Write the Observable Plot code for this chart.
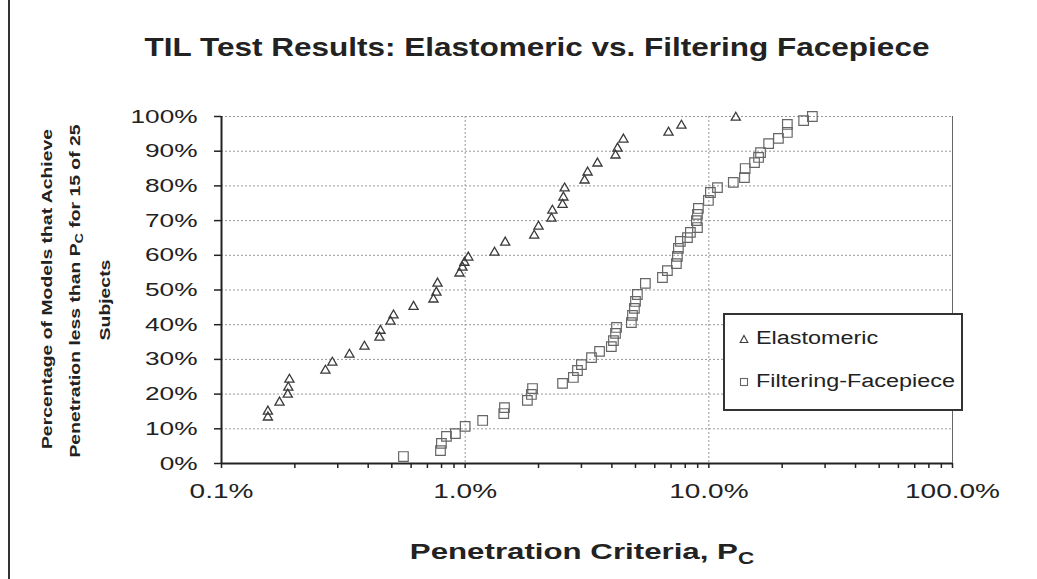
<!DOCTYPE html>
<html>
<head>
<meta charset="utf-8">
<script src="https://cdn.jsdelivr.net/npm/d3@7"></script>
<script src="https://cdn.jsdelivr.net/npm/@observablehq/plot@0.6"></script>
<style>
  html, body { margin: 0; padding: 0; background: #fff; }
  #wrap { position: relative; width: 1037px; height: 579px; overflow: hidden; font-family: "Liberation Sans", Arial, sans-serif; color: #222; }
  #wrap > svg { position: absolute; left: 0; top: 0; }
  .abs { position: absolute; white-space: nowrap; }
  .frame { position: absolute; left: 8px; top: 0; width: 2px; height: 579px; background: #333; }
  .title { font-size: 25px; font-weight: bold; transform: translate(-50%, -50%) scaleX(1.26); }
  .xtitle { font-size: 22px; font-weight: bold; transform: translate(-50%, -50%) scaleX(1.42); }
  .ytitle { font-size: 15.5px; font-weight: bold; transform: translate(-50%, -50%) rotate(-90deg) scaleX(1.25); }
  sub { font-size: 72%; vertical-align: -0.3em; line-height: 0; }
  #legend { position: absolute; left: 723px; top: 313px; width: 236px; height: 94px; border: 2px solid #333; background: #fff; }
  .li { position: absolute; left: 14px; font-size: 18px; display: flex; align-items: center; }
  .li svg { display: block; margin-right: 7px; }
  .li span { display: inline-block; transform-origin: 0 50%; transform: scaleX(1.3); }
</style>
</head>
<body>
<div id="wrap">
  <div class="frame"></div>
  <div class="abs title" style="left:537px; top:47px;">TIL Test Results: Elastomeric vs. Filtering Facepiece</div>
  <div class="abs xtitle" style="left:582px; top:552px;">Penetration Criteria, P<sub>C</sub></div>
  <div class="abs ytitle" style="left:47px; top:289px;">Percentage of Models that Achieve</div>
  <div class="abs ytitle" style="left:75px; top:291px;">Penetration less than P<sub>C</sub> for 15 of 25</div>
  <div class="abs ytitle" style="left:105px; top:300px;">Subjects</div>
</div>
<script>
// ---- data ----
const seriesNames = ["Elastomeric", "Filtering-Facepiece"];

// Elastomeric: penetration criteria (%) and cumulative percentage of models (%)
const elastoPc = [0.155, 0.155, 0.173, 0.187, 0.188, 0.190, 0.267, 0.285, 0.335, 0.386,
  0.445, 0.449, 0.494, 0.508, 0.614, 0.741, 0.762, 0.770, 0.948, 0.975,
  0.993, 1.03, 1.32, 1.46, 1.92, 2.00, 2.26, 2.28, 2.51, 2.53,
  2.56, 3.09, 3.18, 3.49, 4.14, 4.22, 4.46, 6.83, 7.72, 12.9];
const elastoPct = [13.3, 15.0, 17.6, 19.9, 21.9, 24.2, 26.8, 29.1, 31.4, 33.7,
  36.3, 38.3, 40.9, 42.7, 45.2, 47.3, 49.3, 51.9, 54.8, 56.5,
  57.9, 59.4, 60.8, 63.7, 65.7, 68.3, 70.6, 72.9, 74.6, 76.7,
  79.3, 81.6, 83.9, 86.5, 88.8, 90.8, 93.4, 95.4, 97.4, 99.7];

// Filtering-Facepiece
const filterPc = [0.558, 0.792, 0.799, 0.838, 0.912, 1.00, 1.18, 1.44, 1.45, 1.80,
  1.87, 1.89, 2.51, 2.78, 2.89, 3.00, 3.30, 3.56, 3.98, 4.06,
  4.14, 4.18, 4.81, 4.86, 4.95, 5.00, 5.09, 5.49, 6.45, 6.76,
  7.36, 7.43, 7.50, 7.64, 8.17, 8.40, 8.98, 8.89, 8.98, 9.06,
  9.96, 10.15, 10.85, 12.6, 14.0, 14.1, 15.4, 16.0, 16.3, 17.6,
  19.3, 21.0, 21.0, 24.5, 26.6];
const filterPct = [2.0, 3.7, 5.8, 7.8, 8.6, 10.7, 12.4, 14.4, 16.1, 18.2,
  19.9, 21.6, 23.1, 24.8, 26.8, 28.5, 30.5, 32.3, 33.7, 35.4,
  37.5, 39.2, 40.6, 42.7, 44.7, 46.7, 48.7, 51.9, 53.6, 55.6,
  57.6, 59.7, 62.0, 64.0, 65.1, 66.6, 68.0, 70.0, 71.8, 73.5,
  75.8, 78.1, 79.5, 81.0, 82.4, 85.0, 86.7, 88.2, 89.6, 92.2,
  93.7, 95.4, 97.7, 98.8, 100];

// tick labels
const xMajor = [0.1, 1, 10, 100];
const xTickLabels = ["0.1%", "1.0%", "10.0%", "100.0%"];
const yTicks = [0, 10, 20, 30, 40, 50, 60, 70, 80, 90, 100];
const yTickLabels = ["0%", "10%", "20%", "30%", "40%", "50%", "60%", "70%", "80%", "90%", "100%"];

// ---- build ----
const elasto = elastoPc.map((pc, i) => ({pc, pct: elastoPct[i], s: seriesNames[0]}));
const filt = filterPc.map((pc, i) => ({pc, pct: filterPct[i], s: seriesNames[1]}));
const xAllTicks = xMajor.slice(0, 3).flatMap(d => [1,2,3,4,5,6,7,8,9].map(k => +(k * d).toPrecision(3))).concat([100]);
const xFmt = d => { const i = xMajor.findIndex(m => Math.abs(m - d) < 1e-9); return i >= 0 ? xTickLabels[i] : ""; };
const yFmt = d => yTickLabels[yTicks.indexOf(d)];

const chart = Plot.plot({
  width: 1037,
  height: 579,
  marginLeft: 221,
  marginRight: 85,
  marginTop: 116,
  marginBottom: 116,
  style: {fontFamily: '"Liberation Sans", Arial, sans-serif', color: "#222", background: "transparent"},
  x: {type: "log", domain: [0.1, 100]},
  y: {domain: [0, 100]},
  marks: [
    Plot.gridY(yTicks.slice(1), {stroke: "#999", strokeOpacity: 1, strokeDasharray: "2,2"}),
    Plot.gridX([1, 10], {stroke: "#999", strokeOpacity: 1, strokeDasharray: "2,2"}),
    Plot.ruleX([100], {stroke: "#666", strokeWidth: 1}),
    Plot.axisY(yTicks, {tickFormat: yFmt, tickSize: 7, tickPadding: 17, fontSize: 19, label: null, strokeWidth: 1.5}),
    Plot.axisX(xAllTicks, {tickFormat: xFmt, tickSize: 5, tickPadding: 15, fontSize: 20, label: null, strokeWidth: 1.5}),
    Plot.ruleY([0], {stroke: "#222", strokeWidth: 2}),
    Plot.ruleX([0.1], {stroke: "#222", strokeWidth: 2}),
    Plot.dot(elasto, {x: "pc", y: "pct", symbol: "triangle", r: 3.4, stroke: "#3a3a3a", strokeWidth: 1.3, fill: "none"}),
    Plot.dot(filt, {x: "pc", y: "pct", symbol: "square", r: 5.4, stroke: "#666", strokeWidth: 1.2, fill: "none"})
  ]
});
const wrap = document.getElementById("wrap");
wrap.insertBefore(chart, wrap.firstChild);

// widen tick labels horizontally, as in the (stretched) reference
function stretch(sel, k) {
  chart.querySelectorAll(sel).forEach(t => {
    let tr = t.getAttribute("transform") || "";
    const x = t.getAttribute("x");
    if (x != null) { tr += ` translate(${x},0)`; t.removeAttribute("x"); }
    t.setAttribute("transform", tr + ` scale(${k},1)`);
  });
}
stretch('g[aria-label="y-axis tick label"] text', 1.38);
stretch('g[aria-label="x-axis tick label"] text', 1.4);

// legend
const legend = document.createElement("div");
legend.id = "legend";
const sym = {
  "Elastomeric": '<svg width="10" height="10"><path d="M5,1.5 L8.8,8.5 L1.2,8.5 Z" fill="none" stroke="#3a3a3a" stroke-width="1.1"/></svg>',
  "Filtering-Facepiece": '<svg width="10" height="10"><rect x="1.5" y="1.5" width="7" height="7" fill="none" stroke="#666" stroke-width="1.1"/></svg>'
};
seriesNames.forEach((name, i) => {
  const it = document.createElement("div");
  it.className = "li";
  it.style.top = (i === 0 ? 13 : 56) + "px";
  it.innerHTML = sym[name] + "<span>" + name + "</span>";
  legend.appendChild(it);
});
wrap.appendChild(legend);
</script>
</body>
</html>
